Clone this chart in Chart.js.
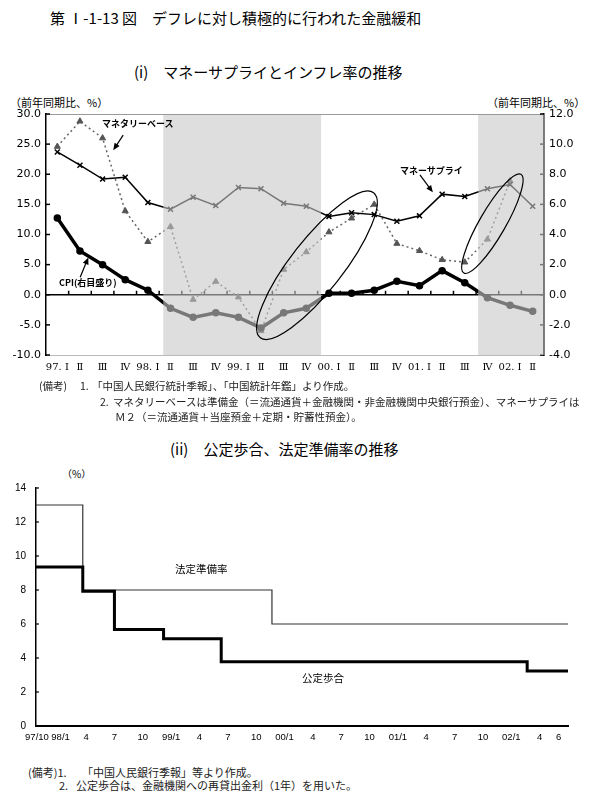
<html>
<head>
<meta charset="utf-8">
<title>第Ⅰ-1-13図</title>
<style>
    body {
        margin: 0;
        width: 589px;
        height: 798px;
        position: relative;
        background: #fff;
        font-family: "Noto Sans CJK JP", sans-serif;
        color: #000;
    }
    .t {
        position: absolute;
        white-space: nowrap;
        line-height: 1;
    }
    .note { font-size: 10.5px; color: #222; }
    .lbl { font-size: 9px; font-weight: bold; }
    canvas { position: absolute; left: 0; }
</style>
<script src="https://cdn.jsdelivr.net/npm/chart.js"></script>
</head>
<body>
    <div class="t" style="left:50px; top:10px; font-size:15px;">第 Ⅰ-1-13 図　デフレに対し積極的に行われた金融緩和</div>
    <div class="t" style="left:134px; top:64px; font-size:15px;">(i)　マネーサプライとインフレ率の推移</div>

    <div class="t" style="left:10px; top:97px; font-size:11px;">（前年同期比、%）</div>
    <div class="t" style="left:487px; top:97px; font-size:11px;">（前年同期比、%）</div>

    <canvas id="chart1" width="589" height="290" style="top:90px; width:589px; height:290px;"></canvas>

    <div class="t lbl" style="left:102px; top:119px;">マネタリーベース</div>
    <div class="t lbl" style="left:400px; top:166px;">マネーサプライ</div>
    <div class="t lbl" style="left:59px; top:278px;">CPI(右目盛り)</div>

    <div class="t note" style="left:39px; top:381px;">(備考)</div>
    <div class="t note" style="left:80px; top:381px;">1.</div>
    <div class="t note" style="left:92px; top:381px;">「中国人民銀行統計季報」、「中国統計年鑑」より作成。</div>
    <div class="t note" style="left:100px; top:397px;">2.</div>
    <div class="t note" style="left:113px; top:397px;">マネタリーベースは準備金（＝流通通貨＋金融機関・非金融機関中央銀行預金）、マネーサプライは</div>
    <div class="t note" style="left:115px; top:412px;">Ｍ２（＝流通通貨＋当座預金＋定期・貯蓄性預金）。</div>

    <div class="t" style="left:170px; top:441px; font-size:15px;">(ii)　公定歩合、法定準備率の推移</div>
    <div class="t" style="left:62px; top:469px; font-size:10px;">（%）</div>

    <canvas id="chart2" width="589" height="290" style="top:460px; width:589px; height:290px;"></canvas>

    <div class="t" style="left:175px; top:564px; font-size:10.5px;">法定準備率</div>
    <div class="t" style="left:302px; top:673px; font-size:10.5px;">公定歩合</div>

    <div class="t note" style="left:28px; top:767px; font-size:11px;">(備考)1.</div>
    <div class="t note" style="left:82px; top:767px; font-size:11px;">「中国人民銀行季報」等より作成。</div>
    <div class="t note" style="left:59px; top:780px; font-size:11px;">2.</div>
    <div class="t note" style="left:76px; top:780px; font-size:11px;">公定歩合は、金融機関への再貸出金利（1年）を用いた。</div>

<script>
// ---- (i) マネーサプライとインフレ率 ----
var quarters = ['97. Ⅰ', 'Ⅱ', 'Ⅲ', 'Ⅳ', '98. Ⅰ', 'Ⅱ', 'Ⅲ', 'Ⅳ', '99. Ⅰ', 'Ⅱ', 'Ⅲ', 'Ⅳ',
                '00. Ⅰ', 'Ⅱ', 'Ⅲ', 'Ⅳ', '01. Ⅰ', 'Ⅱ', 'Ⅲ', 'Ⅳ', '02. Ⅰ', 'Ⅱ'];
var moneySupply = [23.7, 21.5, 19.2, 19.5, 15.3, 14.2, 16.2, 14.8, 17.8, 17.6, 15.2, 14.7,
                   13.0, 13.6, 13.3, 12.2, 13.1, 16.7, 16.3, 17.6, 18.3, 14.7];
var monetaryBase = [24.6, 28.8, 26.0, 13.9, 8.8, 11.3, -0.8, 2.2, -0.4, -6.0, 4.2, 7.1,
                    10.4, 12.7, 15.0, 8.5, 7.3, 5.8, 5.4, 9.2, 18.9, null];
var cpi = [5.1, 2.9, 2.0, 1.0, 0.3, -0.9, -1.5, -1.2, -1.5, -2.2, -1.2, -0.9,
           0.1, 0.1, 0.3, 0.9, 0.6, 1.6, 0.8, -0.2, -0.7, -1.1];
var leftTicks = [-10, -5, 0, 5, 10, 15, 20, 25, 30];
var rightTicks = [-4, -2, 0, 2, 4, 6, 8, 10, 12];
// shaded periods, in quarter index units
var shadeBands = [[4.68, 11.65], [18.59, 21.5]];

// ---- (ii) 公定歩合、法定準備率 ----
// x = months since 1997/10/1
var reserveMonths = [0.7, 5.65, 25.67, 57];
var reserveRate = [13, 8, 6, 6];
var discountMonths = [0.7, 5.65, 9.0, 14.2, 20.3, 52.68, 57];
var discountRate = [9.36, 7.92, 5.67, 5.13, 3.78, 3.24, 3.24];
var monthTicks = [0.8, 3.3, 6, 9, 12, 15, 18, 21, 24, 27, 30, 33, 36, 39, 42, 45, 48, 51, 54, 56];
var monthLabels = ['97/10', '98/1', '4', '7', '10', '99/1', '4', '7', '10', '00/1', '4', '7', '10',
                   '01/1', '4', '7', '10', '02/1', '4', '6'];

function seg(ctx, x1, y1, x2, y2) {
    ctx.beginPath();
    ctx.moveTo(x1, y1);
    ctx.lineTo(x2, y2);
    ctx.stroke();
}

function arrow(ctx, x1, y1, x2, y2) {
    var ang = Math.atan2(y2 - y1, x2 - x1);
    ctx.lineWidth = 1.2;
    seg(ctx, x1, y1, x2 - 4 * Math.cos(ang), y2 - 4 * Math.sin(ang));
    ctx.beginPath();
    ctx.moveTo(x2, y2);
    ctx.lineTo(x2 - 7 * Math.cos(ang) + 3 * Math.sin(ang), y2 - 7 * Math.sin(ang) - 3 * Math.cos(ang));
    ctx.lineTo(x2 - 7 * Math.cos(ang) - 3 * Math.sin(ang), y2 - 7 * Math.sin(ang) + 3 * Math.cos(ang));
    ctx.closePath();
    ctx.fill();
}

var deco1 = {
    id: 'deco1',
    beforeDatasetsDraw: function (chart) {
        var ctx = chart.ctx, a = chart.chartArea, x = chart.scales.x, y = chart.scales.y, y2 = chart.scales.y2;
        var y0 = y.getPixelForValue(0);
        ctx.save();
        ctx.strokeStyle = '#999';
        ctx.lineWidth = 1;
        seg(ctx, a.left, a.top + 0.5, a.right, a.top + 0.5);
        ctx.strokeStyle = '#000';
        ctx.lineWidth = 1.5;
        seg(ctx, a.left, y0, a.right, y0);
        for (var i = 0; i < quarters.length - 1; i++) {
            var px = x.getPixelForValue(i + 0.5);
            seg(ctx, px, y0, px, y0 - 4);
        }
        leftTicks.forEach(function (v) {
            var py = y.getPixelForValue(v);
            seg(ctx, a.left, py, a.left + 4, py);
        });
        rightTicks.forEach(function (v) {
            var py = y2.getPixelForValue(v);
            seg(ctx, a.right - 4, py, a.right, py);
        });
        ctx.restore();
    },
    afterDatasetsDraw: function (chart) {
        var ctx = chart.ctx, a = chart.chartArea, x = chart.scales.x;
        ctx.save();
        ctx.fillStyle = 'rgba(200,200,200,0.6)';
        shadeBands.forEach(function (b) {
            var x1 = Math.max(a.left, x.getPixelForValue(b[0]));
            var x2 = Math.min(a.right, x.getPixelForValue(b[1]));
            ctx.fillRect(x1, a.top + 1, x2 - x1, a.bottom - a.top - 1);
        });
        ctx.restore();
    },
    afterDraw: function (chart) {
        var ctx = chart.ctx, x = chart.scales.x, y = chart.scales.y;
        ctx.save();
        ctx.strokeStyle = '#000';
        ctx.fillStyle = '#000';
        ctx.lineWidth = 1.2;
        // ellipses
        [[11.47, 4.9, 92, 26, -52], [19.22, 11.8, 57, 13, -60]].forEach(function (e) {
            ctx.beginPath();
            ctx.ellipse(x.getPixelForValue(e[0]), y.getPixelForValue(e[1]), e[2], e[3], e[4] * Math.PI / 180, 0, Math.PI * 2);
            ctx.stroke();
        });
        // arrows
        arrow(ctx, x.getPixelForValue(2.91), y.getPixelForValue(26.5), x.getPixelForValue(2.47), y.getPixelForValue(24.0));
        arrow(ctx, x.getPixelForValue(16.02), y.getPixelForValue(19.9), x.getPixelForValue(16.59), y.getPixelForValue(17.0));
        arrow(ctx, x.getPixelForValue(1.01), y.getPixelForValue(2.9), x.getPixelForValue(1.37), y.getPixelForValue(6.2));
        ctx.restore();
    }
};

new Chart(document.getElementById('chart1').getContext('2d'), {
    type: 'line',
    data: {
        labels: quarters,
        datasets: [
            {
                label: 'CPI',
                data: cpi,
                yAxisID: 'y2',
                borderColor: '#000',
                borderWidth: 3.5,
                pointRadius: 2,
                pointBackgroundColor: '#000',
                pointBorderColor: '#000',
                tension: 0
            },
            {
                label: 'マネーサプライ',
                data: moneySupply,
                yAxisID: 'y',
                borderColor: '#000',
                borderWidth: 1.5,
                pointStyle: 'crossRot',
                pointRadius: 3.5,
                pointBorderWidth: 1.5,
                pointBorderColor: '#000',
                tension: 0
            },
            {
                label: 'マネタリーベース',
                data: monetaryBase,
                yAxisID: 'y',
                borderColor: '#666',
                borderWidth: 1.5,
                borderDash: [2, 3],
                pointStyle: 'triangle',
                pointRadius: 3.5,
                pointBackgroundColor: '#555',
                pointBorderColor: '#555',
                pointBorderWidth: 1,
                tension: 0
            }
        ]
    },
    options: {
        responsive: false,
        animation: false,
        devicePixelRatio: 1,
        layout: { padding: { top: 24, left: 0, right: 0, bottom: 0 } },
        plugins: { legend: { display: false }, tooltip: { enabled: false } },
        scales: {
            x: {
                offset: true,
                grid: { drawOnChartArea: false, drawTicks: false },
                border: { color: '#bbb', width: 1 },
                ticks: { color: '#000', font: { family: "'DejaVu Serif', 'Noto Sans CJK JP'", size: 10 }, maxRotation: 0, autoSkip: false, padding: 6 },
                afterFit: function (s) { s.height = 25; }
            },
            y: {
                position: 'left',
                min: -10, max: 30,
                afterBuildTicks: function (s) { s.ticks = leftTicks.map(function (v) { return { value: v }; }); },
                grid: { drawOnChartArea: false, drawTicks: false },
                border: { color: '#000', width: 1.5 },
                ticks: { color: '#000', font: { family: 'DejaVu Sans', size: 11 }, padding: 5, callback: function (v) { return v.toFixed(1); } },
                afterFit: function (s) { s.width = 46; }
            },
            y2: {
                position: 'right',
                min: -4, max: 12,
                afterBuildTicks: function (s) { s.ticks = rightTicks.map(function (v) { return { value: v }; }); },
                grid: { drawOnChartArea: false, drawTicks: false },
                border: { color: '#000', width: 1.5 },
                ticks: { color: '#000', font: { family: 'DejaVu Sans', size: 11 }, padding: 5, callback: function (v) { return v.toFixed(1); } },
                afterFit: function (s) { s.width = 45; }
            }
        }
    },
    plugins: [deco1]
});

var deco2 = {
    id: 'deco2',
    beforeDatasetsDraw: function (chart) {
        var ctx = chart.ctx, a = chart.chartArea, y = chart.scales.y;
        ctx.save();
        ctx.strokeStyle = '#000';
        ctx.lineWidth = 1.2;
        y.ticks.forEach(function (t) {
            var py = y.getPixelForValue(t.value);
            seg(ctx, a.left, py, a.left + 3, py);
        });
        ctx.restore();
    }
};

function pairs(xs, ys) {
    return xs.map(function (v, i) { return { x: v, y: ys[i] }; });
}

new Chart(document.getElementById('chart2').getContext('2d'), {
    type: 'line',
    data: {
        datasets: [
            {
                label: '公定歩合',
                data: pairs(discountMonths, discountRate),
                stepped: true,
                borderColor: '#000',
                borderWidth: 3,
                pointRadius: 0
            },
            {
                label: '法定準備率',
                data: pairs(reserveMonths, reserveRate),
                stepped: true,
                borderColor: '#333',
                borderWidth: 1.2,
                pointRadius: 0
            }
        ]
    },
    options: {
        responsive: false,
        animation: false,
        devicePixelRatio: 1,
        layout: { padding: { top: 28, left: 0, right: 21, bottom: 0 } },
        plugins: { legend: { display: false }, tooltip: { enabled: false } },
        scales: {
            x: {
                type: 'linear',
                min: 0.7, max: 57,
                afterBuildTicks: function (s) { s.ticks = monthTicks.map(function (v) { return { value: v }; }); },
                grid: { drawOnChartArea: false, drawTicks: false },
                border: { color: '#000', width: 2 },
                ticks: { color: '#000', font: { family: 'Liberation Sans', size: 9.5 }, maxRotation: 0, autoSkip: false, padding: 6,
                         callback: function (v, i) { return monthLabels[i]; } },
                afterFit: function (s) { s.height = 24; }
            },
            y: {
                min: 0, max: 14,
                ticks: { stepSize: 2, color: '#000', font: { family: 'Liberation Sans', size: 10 }, padding: 10 },
                grid: { drawOnChartArea: false, drawTicks: false },
                border: { color: '#000', width: 1.5 },
                afterFit: function (s) { s.width = 36; }
            }
        }
    },
    plugins: [deco2]
});
</script>
</body>
</html>
